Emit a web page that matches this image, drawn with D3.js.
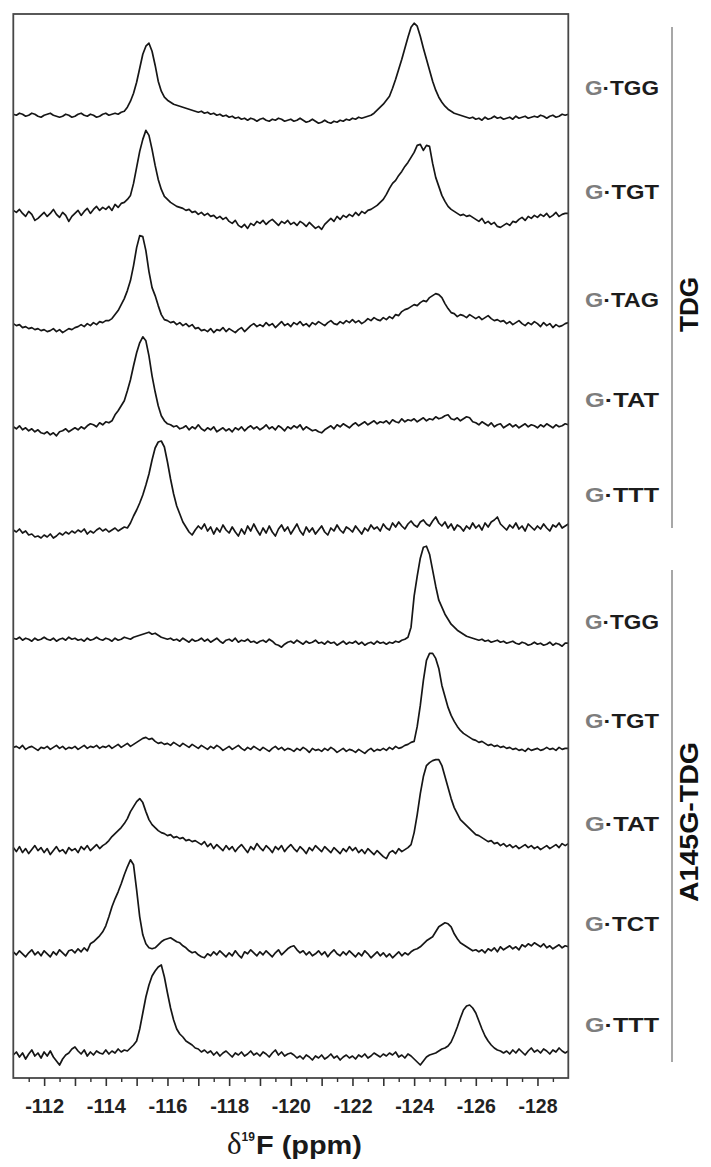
<!DOCTYPE html>
<html><head><meta charset="utf-8">
<script src="https://cdn.jsdelivr.net/npm/d3@7"></script>
<style>body{margin:0;background:#fff}</style>
</head><body>
<svg id="chart" width="711" height="1167"></svg>
<script>
// ---- data ----
const sampleLabels = ["TGG","TGT","TAG","TAT","TTT","TGG","TGT","TAT","TCT","TTT"];
const groupNames = ["TDG","A145G-TDG"];
const groupMembers = [[0,4],[5,9]];
const ppmStart = -111, ppmStep = -0.1;
const tickLabels = [-112,-114,-116,-118,-120,-122,-124,-126,-128];
const majorTicks = [-112,-113,-114,-115,-116,-117,-118,-119,-120,-121,-122,-123,-124,-125,-126,-127,-128];
const minorTicks = [-111.5,-112.5,-113.5,-114.5,-115.5,-116.5,-117.5,-118.5,-119.5,-120.5,-121.5,-122.5,-123.5,-124.5,-125.5,-126.5,-127.5,-128.5];

const spectrum1 = [
1,0,2,1,-1,0,2,1,-1,-2,
0,1,2,0,-1,-2,-1,1,0,-2,
-1,1,2,0,-1,1,0,-2,-1,1,
2,0,1,2,1,3,4,8,14,22,
33,47,61,69,72,64,50,34,24,18,
15,13,11,10,9,8,7,6,5,4,
3,4,2,3,1,2,0,1,-1,0,
-2,-1,-3,-2,-4,-3,-5,-3,-4,-6,
-4,-3,-5,-6,-4,-5,-3,-4,-6,-5,
-4,-6,-5,-3,-5,-7,-6,-4,-6,-8,
-7,-5,-7,-8,-6,-7,-5,-6,-4,-5,
-3,-4,-2,-3,-2,-1,0,2,5,8,
11,15,19,27,36,46,56,67,78,88,
92,89,79,67,56,45,34,25,18,13,
9,6,4,2,1,0,-1,-2,-3,-2,
-4,-3,-5,-2,-4,-3,-1,-3,-2,-4,
-3,-2,-4,-1,-3,-2,-1,-3,-2,-1,
-2,0,-1,-3,-1,0,-2,-1,1,0,
1];
const spectrum2 = [
9,7,10,6,3,8,5,-1,1,4,
7,3,6,10,5,2,7,4,-2,3,
6,9,4,8,11,6,10,13,9,12,
10,13,9,15,12,16,17,20,24,36,
52,68,80,89,84,70,54,40,30,23,
20,17,15,13,12,11,9,10,7,8,
5,7,4,6,3,4,1,3,0,2,
-2,-4,-1,-6,-8,-5,-9,-4,-6,-2,
-4,-1,-5,-2,0,-3,-6,-2,-4,-1,
-5,-3,-6,-2,-4,-7,-3,-6,-9,-7,
-10,-5,-2,1,-2,3,0,4,2,5,
3,7,4,8,6,9,10,12,14,17,
20,25,31,36,39,44,48,53,57,62,
67,74,75,69,74,73,56,42,33,24,
18,13,10,8,6,4,5,3,4,2,
0,-2,1,-4,-2,-5,-3,-7,-8,-6,
-4,-6,-2,-3,0,2,-1,3,1,4,
2,5,3,6,2,4,7,3,5,6,
6];
const spectrum3 = [
0,-2,-1,-4,-3,-5,-4,-6,-5,-7,
-6,-8,-7,-5,-8,-6,-9,-7,-5,-6,
-4,-3,-1,-3,0,-2,1,-1,2,1,
3,3,5,9,13,19,25,33,43,58,
76,88,87,73,52,36,28,18,9,4,
3,1,2,-1,1,-2,0,-3,-1,-5,
-4,-7,-6,-8,-5,-9,-6,-7,-4,-8,
-5,-7,-9,-6,-4,-8,-5,-2,0,-3,
-1,-3,1,-2,0,-4,-1,2,-2,0,
-3,1,-1,2,-2,0,-3,1,-1,2,
0,-2,1,3,0,-1,2,0,3,1,
4,1,3,0,2,5,3,6,4,3,
6,4,7,5,9,8,12,14,15,17,
19,18,21,23,22,26,28,30,29,26,
20,15,11,10,7,9,8,6,9,7,
5,7,4,6,8,5,3,4,2,3,
0,2,-1,1,3,0,-2,1,-1,2,
0,-3,1,-2,0,-4,-1,-3,-2,0,
1];
const spectrum4 = [
1,-1,2,-2,0,-3,-1,-4,-2,-5,
-6,-4,-7,-5,-8,-4,-3,-1,-4,-2,
0,-2,1,-1,2,4,3,1,5,3,
6,5,7,13,17,22,27,37,48,62,
75,85,91,87,72,52,36,22,12,7,
4,3,1,2,-1,0,2,-2,1,-1,
3,-1,-3,0,-2,1,-4,-2,0,-3,
-1,-4,0,-2,1,-3,0,2,-1,1,
-2,0,3,-1,1,-2,2,0,-3,1,
-1,2,0,3,-2,1,-1,-3,-2,-4,
-5,-2,0,2,-1,3,1,4,2,0,
3,5,2,4,6,3,5,7,4,6,
5,7,4,8,6,5,9,6,8,7,
9,6,8,10,7,9,8,11,9,10,
12,13,9,8,10,7,9,11,10,6,
5,3,6,4,2,5,1,3,4,0,
2,4,1,3,0,2,4,1,3,2,
0,3,1,4,2,0,3,1,2,4,
3];
const spectrum5 = [
2,0,3,-1,1,-3,-2,-5,-4,-6,
-3,-5,-2,-6,-4,-1,-3,0,-2,1,
-1,2,0,3,-2,1,-1,2,4,1,
3,0,2,4,1,3,5,4,9,16,
22,29,37,47,58,72,84,90,91,85,
70,53,38,26,18,10,5,0,-3,2,
6,3,8,1,5,-2,4,0,7,2,
-1,5,0,-4,3,-2,6,1,8,2,
-3,4,-1,6,0,-4,3,7,1,5,
-2,3,8,1,-3,5,0,4,-2,2,
6,0,-3,4,1,7,2,-1,5,3,
0,6,2,-2,4,1,7,3,5,1,
8,4,2,9,5,10,6,3,8,11,
7,5,10,12,8,6,11,15,9,6,
10,4,8,2,7,5,1,6,3,9,
4,7,2,9,5,10,12,15,8,5,
2,7,4,9,3,6,1,8,5,2,
6,3,8,4,1,7,5,9,4,6,
8];
const spectrum6 = [
-2,-3,-1,-4,-2,-3,-5,-2,-4,-3,
-1,-3,-4,-2,-5,-3,-2,-4,-1,-3,
-2,-4,-3,-5,-2,-4,-3,-1,-3,-4,
-2,-3,-5,-2,-4,-3,-1,-2,-3,-1,
0,1,2,3,4,2,3,1,-1,-2,
-3,-2,-4,-3,-5,-2,-4,-6,-3,-5,
-4,-2,-5,-3,-6,-4,-2,-5,-7,-4,
-3,-5,-2,-6,-4,-5,-3,-6,-5,-7,
-5,-4,-6,-3,-5,-8,-9,-11,-8,-6,
-5,-7,-4,-6,-8,-5,-7,-6,-4,-7,
-6,-8,-5,-7,-6,-9,-7,-5,-8,-6,
-7,-5,-8,-6,-9,-7,-6,-8,-5,-7,
-6,-8,-6,-7,-5,-6,-4,-3,-1,9,
40,60,78,89,90,82,66,50,36,29,
22,17,12,9,6,4,2,0,-1,-2,
-3,-4,-3,-5,-4,-6,-5,-4,-6,-5,
-7,-6,-5,-7,-8,-6,-7,-9,-8,-6,
-8,-7,-9,-8,-6,-9,-7,-8,-10,-7,
-7];
const spectrum7 = [
-7,-6,-8,-5,-9,-7,-6,-8,-10,-7,
-8,-6,-9,-7,-5,-8,-6,-9,-7,-8,
-6,-9,-7,-5,-8,-6,-7,-5,-8,-6,
-7,-5,-8,-6,-4,-7,-5,-3,-6,-4,
-2,0,2,3,1,2,-1,-3,-2,-4,
-3,-5,-2,-4,-6,-3,-5,-7,-4,-6,
-8,-5,-7,-9,-6,-8,-5,-7,-10,-8,
-6,-9,-7,-5,-8,-10,-7,-9,-6,-8,
-10,-7,-9,-11,-8,-6,-9,-7,-10,-8,
-9,-11,-8,-10,-7,-9,-12,-8,-10,-9,
-11,-8,-10,-7,-9,-12,-10,-8,-11,-9,
-10,-12,-9,-11,-13,-10,-8,-11,-9,-10,
-8,-10,-7,-9,-6,-8,-7,-5,-4,-2,
-1,14,35,60,80,87,87,82,72,55,
44,33,25,19,14,10,7,5,3,1,
0,-2,-1,-3,-5,-4,-6,-5,-7,-6,
-8,-7,-9,-8,-10,-9,-11,-8,-10,-9,
-8,-10,-9,-7,-9,-8,-10,-7,-9,-8,
-8];
const spectrum8 = [
-3,-7,-2,-8,-4,-9,-5,-1,-6,-3,
-8,-4,-10,-6,-2,-7,-5,-9,-3,-6,
-4,-8,-2,-5,-1,-6,-3,0,-4,-1,
1,4,8,11,14,17,21,26,33,38,
43,46,42,33,25,20,17,14,12,11,
9,10,7,8,6,7,4,5,3,4,
2,0,3,-2,1,-4,0,-3,-6,-1,
-5,-2,-7,-3,0,-4,-8,-2,-5,1,
-3,-6,-1,-4,-8,-2,-5,-1,-7,-3,
0,-4,-7,-2,-5,-9,-3,-6,-1,-4,
-7,-2,-5,-8,-3,-6,-9,-4,-7,-2,
-6,-3,-8,-5,-9,-4,-7,-10,-6,-9,
-12,-14,-8,-6,-9,-4,-7,-5,-3,0,
12,30,51,68,79,82,84,85,85,79,
68,57,46,37,31,25,22,19,16,13,
10,9,7,5,3,4,1,2,-1,1,
-2,0,-3,-1,-4,-2,0,-3,-1,-4,
-2,-5,-3,-1,-4,-2,0,-3,1,-1,
1];
const spectrum9 = [
-3,-6,-2,-5,-8,-4,-1,-6,-3,-7,
-2,-5,-8,-3,-6,-1,-4,-7,-2,-1,
-4,0,-3,1,-2,5,7,10,13,17,
23,32,42,50,57,65,74,82,89,84,
59,32,14,5,1,0,1,4,7,9,
10,11,9,7,6,3,1,-2,-4,-3,
-6,-8,-9,-5,-7,-3,-6,-2,-5,-8,
-4,-7,-2,-6,-9,-3,-5,-1,-4,-7,
-3,-6,-2,-5,-8,-4,-1,-6,-3,0,
2,3,-1,-4,-2,-6,-3,-7,-5,-2,
-6,-3,-8,-4,-1,-5,-7,-3,-6,-2,
-5,-8,-4,-7,-2,-5,-9,-6,-3,-7,
-4,-8,-5,-9,-6,-3,-7,-4,-6,-3,
-1,0,2,5,8,10,12,17,22,24,
26,25,22,15,10,6,4,2,0,-2,
-1,-3,-1,-4,0,-2,1,-3,2,-1,
1,3,0,2,-1,4,2,5,3,6,
4,2,5,1,3,0,2,4,1,3,
2];
const spectrum10 = [
-2,1,-4,0,-6,-1,3,-3,0,-5,
1,-3,2,-4,-8,-12,-6,-2,0,4,
6,2,-1,3,-3,1,-2,2,0,-1,
3,-1,2,0,4,1,3,2,5,8,
12,24,40,56,68,77,82,86,88,76,
60,45,33,24,19,16,12,10,8,5,
4,1,3,0,2,-2,1,-3,0,2,
-1,-4,0,-2,1,-3,-1,2,-2,0,
-3,1,-1,-4,0,3,-2,1,-3,-1,
0,-2,-5,-3,-6,-2,-4,-7,-3,-5,
-2,-6,-4,-1,-5,-3,-7,-4,-2,-5,
-3,-6,-2,-4,-1,-5,-3,0,-2,-4,
-1,-3,0,-2,1,-4,-2,-5,-1,-3,
-6,-9,-12,-8,-4,-2,-1,0,2,4,
5,7,11,18,26,35,43,47,48,45,
40,32,24,17,12,8,5,3,2,0,
2,-1,3,0,4,1,-2,2,5,1,
3,0,4,2,-1,3,1,5,2,0,
2];
const spectra = [spectrum1,spectrum2,spectrum3,spectrum4,spectrum5,spectrum6,spectrum7,spectrum8,spectrum9,spectrum10];

// ---- layout ----
const L = 13.3, R = 568.3, T = 14, B = 1078;
const stackStep = 104.2;
const labelNudge = [-1,-1,2,-2,-11,12,7,5,1,-2];
const groupLine = [[27, 528], [570, 1062]];
const groupLabelY = [304.5, 822];
const groupLen = [55, 160];
const FONT = "'Liberation Sans', Arial, Helvetica, sans-serif";

// ---- drawing ----
const svg = d3.select("#chart");
const x = d3.scaleLinear().domain([-111, -129]).range([L, R]);
const y = d3.scaleLinear().domain([-25, 1039]).range([B, T]);
const nTr = spectra.length;
const ppmAt = k => ppmStart + ppmStep * k;

const plot = svg.append("g");
spectra.forEach((s, i) => {
  const off = (nTr - 1 - i) * stackStep;
  const line = d3.line().x((d, k) => x(ppmAt(k))).y(d => y(d + off));
  plot.append("path").datum(s)
    .attr("d", line).attr("fill", "none")
    .attr("stroke", "#161616").attr("stroke-width", 1.7)
    .attr("stroke-linejoin", "round");
});

svg.append("rect").attr("x", L).attr("y", T).attr("width", R - L).attr("height", B - T)
  .attr("fill", "none").attr("stroke", "#474747").attr("stroke-width", 1.8);

// axis
const axMajor = svg.append("g").attr("transform", `translate(0,${B})`)
  .call(d3.axisBottom(x).tickValues(majorTicks).tickSize(8).tickPadding(13)
    .tickFormat(d => tickLabels.includes(d) ? String(d) : ""));
axMajor.select(".domain").remove();
axMajor.selectAll(".tick line").attr("stroke", "#333").attr("stroke-width", 1.6);
axMajor.selectAll(".tick text").attr("font-family", FONT).attr("font-weight", "bold")
  .attr("font-size", 20).attr("fill", "#222");
axMajor.selectAll(".tick text").filter(function(){ return this.textContent !== ""; })
  .attr("textLength", 39).attr("lengthAdjust", "spacingAndGlyphs");
const axMinor = svg.append("g").attr("transform", `translate(0,${B})`)
  .call(d3.axisBottom(x).tickValues(minorTicks).tickSize(4).tickFormat(""));
axMinor.select(".domain").remove();
axMinor.selectAll(".tick line").attr("stroke", "#333").attr("stroke-width", 1.4);

// axis title
const title = svg.append("text").attr("x", 227).attr("y", 1154).attr("fill", "#1a1a1a");
title.append("tspan").text("δ").attr("font-family", "'Liberation Serif', 'Times New Roman', serif")
  .attr("font-size", 31);
title.append("tspan").text("19").attr("font-family", FONT).attr("font-weight", "bold")
  .attr("font-size", 12).attr("dy", -13);
title.append("tspan").text("F (ppm)").attr("font-family", FONT).attr("font-weight", "bold")
  .attr("font-size", 26).attr("dy", 13).attr("dx", 1)
  .attr("textLength", 106).attr("lengthAdjust", "spacingAndGlyphs");

// sample labels
sampleLabels.forEach((lab, i) => {
  const off = (nTr - 1 - i) * stackStep;
  const t = svg.append("text").attr("x", 585).attr("y", y(off) - 19 + labelNudge[i])
    .attr("font-family", FONT).attr("font-weight", "bold").attr("font-size", 20)
    .attr("textLength", 74).attr("lengthAdjust", "spacingAndGlyphs");
  t.append("tspan").text("G").attr("fill", "#7d7d7d");
  t.append("tspan").text("·" + lab).attr("fill", "#1c1c1c");
});

// group brackets
groupNames.forEach((g, gi) => {
  svg.append("line").attr("x1", 672).attr("x2", 672)
    .attr("y1", groupLine[gi][0]).attr("y2", groupLine[gi][1])
    .attr("stroke", "#8a8a8a").attr("stroke-width", 1.5);
  svg.append("text").text(g)
    .attr("transform", `translate(698,${groupLabelY[gi]}) rotate(-90)`)
    .attr("text-anchor", "middle").attr("font-family", FONT).attr("font-weight", "bold")
    .attr("font-size", 25).attr("fill", "#111")
    .attr("textLength", groupLen[gi]).attr("lengthAdjust", "spacingAndGlyphs");
});
</script>
</body></html>
